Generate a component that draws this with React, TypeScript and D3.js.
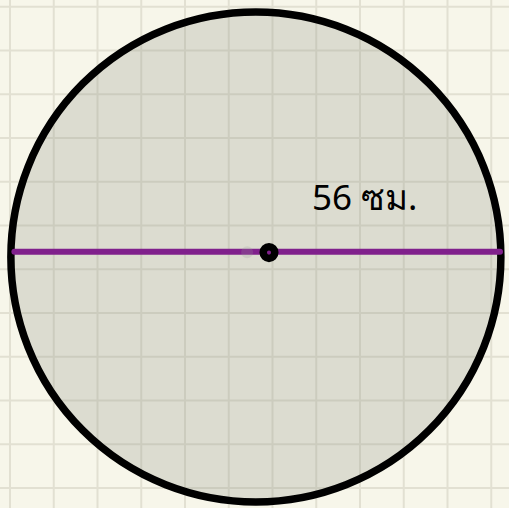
import { useEffect, useRef } from 'react';
import * as d3 from 'd3';

// grid and circle measured in cm (grid step = 5 cm)
const gridStepsX = d3.range(0, 60, 5);
const gridStepsY = d3.range(0, 60, 5);
const circleCenter = [28.1, 28.6];
const diameterCm = 56;
const chord = [[0.5, 28.0], [56.0, 28.0]];
const centerDot = [29.6, 28.1];
const ghostDot = [27.1, 28.05];
const labelPos = [34.5, 23.2];
const labelText = '56 ซม.';

const App = () => {
  const svgRef = useRef<SVGSVGElement>(null);

  useEffect(() => {
    const width = 509;
    const height = 508;

    const svg = d3.select(svgRef.current);
    svg.selectAll('*').remove();
    svg.attr('width', width).attr('height', height);

    const x = d3.scaleLinear().domain([0, 5]).range([10, 53.75]);
    const y = d3.scaleLinear().domain([0, 5]).range([6.7, 50.45]);
    const r = (cm: number) => x(cm) - x(0);

    svg.append('rect')
      .attr('width', width).attr('height', height)
      .attr('fill', '#f7f6ea');

    const grid = svg.append('g')
      .attr('stroke', '#e2e0d2')
      .attr('stroke-width', 2);

    grid.selectAll('line.v')
      .data(gridStepsX)
      .join('line')
      .attr('class', 'v')
      .attr('x1', d => x(d)).attr('x2', d => x(d))
      .attr('y1', 0).attr('y2', height);

    grid.selectAll('line.h')
      .data(gridStepsY)
      .join('line')
      .attr('class', 'h')
      .attr('y1', d => y(d)).attr('y2', d => y(d))
      .attr('x1', 0).attr('x2', width);

    svg.append('circle')
      .attr('cx', x(circleCenter[0]))
      .attr('cy', y(circleCenter[1]))
      .attr('r', r(diameterCm / 2))
      .attr('fill', 'rgb(139,145,133)')
      .attr('fill-opacity', 0.25)
      .attr('stroke', '#000')
      .attr('stroke-width', 7.5);

    svg.append('line')
      .attr('x1', x(chord[0][0])).attr('y1', y(chord[0][1]))
      .attr('x2', x(chord[1][0])).attr('y2', y(chord[1][1]))
      .attr('stroke', '#80208c')
      .attr('stroke-width', 6)
      .attr('stroke-linecap', 'round');

    svg.append('circle')
      .attr('cx', x(ghostDot[0])).attr('cy', y(ghostDot[1]))
      .attr('r', 6)
      .attr('fill', '#9a9a9a')
      .attr('fill-opacity', 0.22);

    svg.append('circle')
      .attr('cx', x(centerDot[0])).attr('cy', y(centerDot[1]))
      .attr('r', 5.8)
      .attr('fill', '#80208c')
      .attr('stroke', '#000')
      .attr('stroke-width', 7.5);

    svg.append('text')
      .attr('x', x(labelPos[0]))
      .attr('y', y(labelPos[1]))
      .attr('font-family', '"Noto Sans", "DejaVu Sans", sans-serif')
      .attr('font-size', 35)
      .attr('fill', '#000')
      .text(labelText);
  }, []);

  return (
    <svg ref={svgRef} style={{ position: 'fixed', top: 0, left: 0, display: 'block' }} />
  );
};

export default App;
